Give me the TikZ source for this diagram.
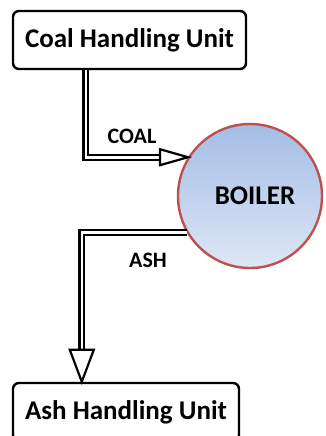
\documentclass[tikz,border=0pt]{standalone}
\usepackage{fontspec}
\setmainfont{Carlito}
\usetikzlibrary{calc}
\definecolor{boilred}{HTML}{C0504D}
\definecolor{boiltop}{HTML}{A4BDE5}
\definecolor{boilbot}{HTML}{DEE7F5}

\begin{document}
\begin{tikzpicture}[x=1pt,y=-1pt,
  unit/.style={draw,line width=2.4pt,rounded corners=6pt,inner sep=0pt,minimum height=58pt,font=\fontsize{27}{32}\selectfont\bfseries},
  pipe/.style={double,double distance=2.6pt,line width=2.2pt},
  head/.style={draw,fill=white,line width=2.2pt,line join=miter},
  lbl/.style={font=\fontsize{22}{26}\selectfont\bfseries}]
\useasboundingbox (0,0) rectangle (326,436);
\node[unit,minimum width=233pt] (chu) at (129.5,40) {Coal Handling Unit};
\node[unit,minimum width=226pt] (ahu) at (126,412) {Ash Handling Unit};
\node[circle,draw=boilred,line width=2.4pt,top color=boiltop,bottom color=boilbot,minimum size=144pt,inner sep=0pt,font=\fontsize{27}{32}\selectfont\bfseries] (boiler) at (250,196) {\hspace*{10pt}BOILER};
% coal feed
\coordinate (coaltip) at (boiler.148);
\coordinate (coalbase) at ($(coaltip)+(-28,0)$);
\draw[pipe] ($(chu.south west)+(74,0)$) |- (coalbase);
\draw[head] ($(coalbase)+(0,-8)$) -- (coaltip) -- ($(coalbase)+(0,8)$) -- cycle;
% ash out
\coordinate (ashtip) at ($(ahu.north west)+(70,0)$);
\coordinate (ashbase) at ($(ashtip)+(0,-32)$);
\draw[pipe] (boiler.210) -| (ashbase);
\draw[head] ($(ashbase)+(-12,0)$) -- (ashtip) -- ($(ashbase)+(12,0)$) -- cycle;
\node[lbl] (coallbl) at (132,136) {COAL};
\node[lbl] (ashlbl) at (148,260) {ASH};
\end{tikzpicture}
\end{document}
